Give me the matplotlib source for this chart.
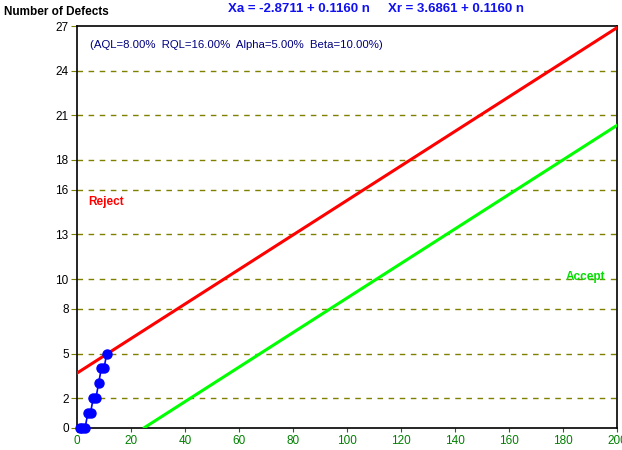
import numpy as np
import matplotlib
matplotlib.use("Agg")
import matplotlib.pyplot as plt

plt.rcParams['font.family'] = ['Liberation Sans', 'DejaVu Sans']

# sequential sampling plan
aql, rql, alpha, beta = 8.0, 16.0, 5.0, 10.0
h_accept = -2.8711
h_reject = 3.6861
slope = 0.1160

# observed cumulative defects vs sample number
sample_n = [1, 2, 3, 4, 5, 6, 7, 8, 9, 10, 11]
defects = [0, 0, 0, 1, 1, 2, 2, 3, 4, 4, 5]

y_ticks = [0, 2, 5, 8, 10, 13, 16, 18, 21, 24, 27]
x_ticks = [0, 20, 40, 60, 80, 100, 120, 140, 160, 180, 200]

fig = plt.figure(figsize=(6.22, 4.5), dpi=100)
ax = fig.add_axes([77 / 622, 22 / 450, 540 / 622, 402 / 450])

n = np.linspace(0, 200, 401)
xr = h_reject + slope * n
xa = h_accept + slope * n
ax.plot(n, xr, color='#ff0000', lw=2.2, zorder=3)
mask = xa >= 0
ax.plot(n[mask], xa[mask], color='#00ff00', lw=2.2, zorder=3)

ax.plot(sample_n, defects, color='#0000ff', lw=1.2, marker='o', ms=6.5,
        clip_on=False, zorder=4)

ax.set_xlim(0, 200)
ax.set_ylim(0, 27)
ax.set_xticks(x_ticks)
ax.set_yticks(y_ticks)
ax.tick_params(axis='x', colors='#008000', labelsize=8.5, length=3, pad=2)
ax.tick_params(axis='y', color='#808000', labelcolor='black', labelsize=8.5,
               length=4, pad=2)
for v in y_ticks[1:-1]:
    ax.axhline(v, color='#808000', lw=1, ls=(0, (4, 4)), zorder=1)
for s in ax.spines.values():
    s.set_color('black')
    s.set_linewidth(1.2)

ax.text(0.024, 0.965, '(AQL=%.2f%%  RQL=%.2f%%  Alpha=%.2f%%  Beta=%.2f%%)'
        % (aql, rql, alpha, beta), transform=ax.transAxes, color='#000080',
        fontsize=8.2, va='top', ha='left')
ax.text(0.02, 0.563, 'Reject', transform=ax.transAxes, color='#ff0000',
        fontsize=8.5, fontweight='bold', va='center')
ax.text(0.905, 0.375, 'Accept', transform=ax.transAxes, color='#00e000',
        fontsize=8.5, fontweight='bold', va='center')

fig.text(4 / 622, 1 - 12 / 450, 'Number of Defects', fontsize=8.5,
         fontweight='bold', va='center')
fig.text(228 / 622, 1 - 9 / 450, 'Xa = %.4f + %.4f n' % (h_accept, slope),
         color='#1010f0', fontsize=9.5, fontweight='bold', va='center')
fig.text(388 / 622, 1 - 9 / 450, 'Xr = %.4f + %.4f n' % (h_reject, slope),
         color='#1010f0', fontsize=9.5, fontweight='bold', va='center')

fig.savefig('out.png', dpi=100)
